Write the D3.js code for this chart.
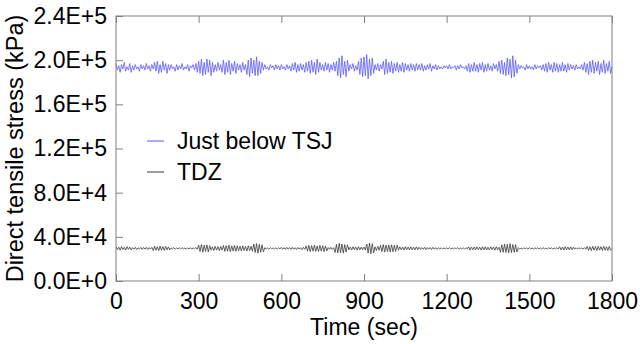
<!DOCTYPE html>
<html>
<head>
<meta charset="utf-8">
<script src="https://cdn.jsdelivr.net/npm/d3@7"></script>
<style>
  body { margin: 0; background: #fff; }
  text { font-family: Arial, "Liberation Sans", sans-serif; fill: #000; }
</style>
</head>
<body>
<div id="chart"></div>
<script>
// time axis, sampled every 5 sec (0..1800)
const timeStep = 5;
const xTicks = [0, 300, 600, 900, 1200, 1500, 1800];
const yTicks = [0, 40000, 80000, 120000, 160000, 200000, 240000];
const seriesNames = ['Just below TSJ', 'TDZ'];

// stress values, in 1000 kPa (one row = 100 sec)
const justBelowTSJ = [
  197,191,195,189,196,192,198,190,194,191,197,189,195,191,196,192,194,190,196,192,
  195,191,197,192,195,190,196,192,198,190,199,188,196,189,199,191,197,188,196,191,
  196,192,194,190,196,191,195,192,197,191,194,192,196,190,195,193,196,191,197,189,
  199,188,201,186,198,187,201,189,200,186,198,189,196,190,198,191,196,189,200,187,
  198,189,200,187,197,190,199,188,197,191,196,189,198,191,196,187,200,185,202,188,
  200,186,203,186,199,188,198,191,196,192,194,191,196,193,195,191,196,192,195,191,
  196,192,194,191,196,192,195,190,197,191,198,189,196,190,197,191,196,189,198,190,
  199,188,200,189,198,187,201,189,198,191,196,190,198,191,197,189,196,191,198,190,
  199,186,202,184,204,187,199,185,200,190,196,192,197,190,195,191,199,187,202,185,
  203,186,205,183,201,186,202,188,196,191,197,190,196,192,199,187,201,188,198,189,
  199,188,197,190,198,189,196,190,198,189,197,191,196,190,197,191,196,190,197,191,
  196,191,197,190,195,191,196,192,197,190,195,192,196,191,195,192,194,192,195,193,
  195,192,196,192,194,193,195,191,195,192,196,193,194,192,195,190,197,189,196,190,
  198,190,196,189,197,191,198,189,196,190,197,191,195,190,197,192,196,190,199,188,
  200,187,198,186,202,187,201,184,204,185,200,188,196,192,195,193,194,191,196,192,
  195,192,194,191,196,192,195,193,195,191,196,190,197,189,198,191,196,189,198,190,
  197,189,196,190,198,190,196,189,197,191,196,192,195,191,196,192,194,192,196,191,
  198,189,197,187,199,189,200,188,198,190,199,187,197,189,200,188,197,190,199,188,
  194
];

const tdz = [
  31.0,28.4,30.6,27.9,31.2,28.5,30.5,28.0,31.1,28.6,30.7,28.1,30.2,28.8,30.5,28.5,30.1,28.9,30.4,28.6,
  30.3,28.8,30.5,28.5,30.2,28.9,30.4,27.6,31.5,27.9,31.1,27.4,31.6,28.0,31.2,27.7,31.4,28.2,30.8,28.1,
  30.0,29.1,30.2,28.8,29.9,29.0,30.1,28.9,30.2,29.1,29.9,28.8,30.1,29.0,30.2,28.9,30.0,29.1,30.3,28.7,
  32.4,26.6,33.0,26.1,32.5,26.8,32.7,26.4,32.0,27.9,31.0,27.6,31.4,28.0,31.2,27.5,31.3,27.9,32.3,26.8,
  32.0,27.0,32.5,26.5,31.9,27.1,32.3,26.9,31.8,27.5,31.5,27.2,31.9,27.6,31.4,27.1,31.8,27.5,31.5,26.9,
  33.5,25.8,33.9,25.3,33.2,26.0,32.8,26.5,30.2,29.0,29.9,28.8,30.2,29.1,30.0,28.9,30.1,28.8,30.0,29.0,
  30.5,28.7,30.2,28.5,30.4,28.8,30.3,28.6,30.5,28.7,30.2,28.6,30.4,28.8,30.2,28.5,30.5,28.7,31.8,27.1,
  32.3,26.6,32.0,27.0,32.4,26.9,31.8,26.8,32.3,27.0,32.0,26.7,31.7,27.2,30.3,28.7,30.5,28.6,30.2,25.8,
  33.2,25.4,34.0,25.6,33.5,25.2,33.0,26.1,32.8,28.3,30.7,28.0,31.0,28.4,30.8,27.9,31.1,28.2,30.7,28.3,
  30.8,28.0,33.5,25.2,34.4,24.7,33.8,25.5,31.0,27.6,31.4,27.9,32.4,26.6,33.0,26.2,32.5,26.7,32.7,26.3,
  32.8,26.5,32.3,26.8,32.5,28.0,31.0,28.3,30.7,28.0,31.1,28.4,30.8,28.1,31.0,28.3,30.7,28.2,30.9,28.4,
  30.6,28.5,30.3,28.7,30.6,28.4,30.3,28.7,30.4,28.5,30.5,28.8,30.2,28.6,30.1,29.0,30.1,28.8,30.0,29.1,
  30.0,28.9,30.2,29.0,29.9,28.9,30.1,29.1,30.2,28.8,29.9,29.0,30.1,28.9,30.2,29.0,31.0,28.0,30.7,28.3,
  30.8,28.1,31.0,28.4,30.7,28.0,31.1,28.3,30.9,28.1,30.6,28.2,31.0,28.4,30.8,27.9,31.1,28.3,30.6,26.0,
  32.8,25.9,33.4,25.9,33.2,25.5,33.8,25.8,33.1,26.1,33.0,26.3,30.2,29.0,29.9,28.8,30.1,29.1,30.0,28.9,
  30.2,29.0,29.9,28.8,30.1,29.1,30.2,28.9,30.0,28.8,30.2,29.0,29.9,28.9,30.1,29.1,30.2,28.8,30.0,29.0,
  30.2,28.9,31.0,28.2,30.7,28.0,31.1,28.3,30.8,28.1,30.9,28.3,30.7,29.0,30.1,28.8,30.2,29.1,29.9,28.9,
  30.2,28.8,31.4,27.8,31.0,27.5,31.5,27.9,31.2,27.6,31.4,28.0,31.1,27.7,31.5,27.8,31.0,27.6,31.3,27.9,
  29.5
];

const width = 640, height = 344;
const margin = { top: 16, right: 28, bottom: 63, left: 116 };
const COLORS = { 'Just below TSJ': '#5b5bff', 'TDZ': '#3a3a3a' };
const tickLen = 7;
const fontSize = '23px';

const svg = d3.select('#chart')
  .append('svg')
  .attr('width', width)
  .attr('height', height);

const x = d3.scaleLinear()
  .domain([0, 1800])
  .range([margin.left, width - margin.right]);

const y = d3.scaleLinear()
  .domain([0, 240000])
  .range([height - margin.bottom, margin.top]);

const fmtY = v => d3.format('.1e')(v).toUpperCase();

// series lines
const line = d3.line()
  .x((d, i) => x(i * timeStep))
  .y(d => y(d * 1000));

[justBelowTSJ, tdz].forEach((values, k) => {
  svg.append('path')
    .datum(values)
    .attr('fill', 'none')
    .attr('stroke', COLORS[seriesNames[k]])
    .attr('stroke-width', 0.8)
    .attr('d', line);
});

// axes: ticks pointing inward, frame all round
const axisColor = '#808080';

svg.append('g')
  .attr('transform', `translate(0,${y(0)})`)
  .call(d3.axisBottom(x).tickValues(xTicks).tickSize(-tickLen).tickPadding(12).tickFormat(d3.format('d')))
  .call(g => g.select('.domain').remove());

svg.append('g')
  .attr('transform', `translate(0,${y(240000)})`)
  .call(d3.axisTop(x).tickValues(xTicks).tickSize(-tickLen).tickFormat(''))
  .call(g => g.select('.domain').remove());

svg.append('g')
  .attr('transform', `translate(${x(0)},0)`)
  .call(d3.axisLeft(y).tickValues(yTicks).tickSize(-tickLen).tickPadding(9).tickFormat(fmtY))
  .call(g => g.select('.domain').remove());

svg.selectAll('.tick line').attr('stroke', axisColor);
svg.selectAll('.tick text')
  .attr('fill', '#000')
  .style('font-family', 'Arial, "Liberation Sans", sans-serif')
  .style('font-size', fontSize);

svg.append('rect')
  .attr('x', x(0))
  .attr('y', y(240000))
  .attr('width', x(1800) - x(0))
  .attr('height', y(0) - y(240000))
  .attr('fill', 'none')
  .attr('stroke', axisColor)
  .attr('stroke-width', 1);

// axis titles
svg.append('text')
  .text('Time (sec)')
  .attr('x', (x(0) + x(1800)) / 2)
  .attr('y', 335)
  .attr('text-anchor', 'middle')
  .style('font-size', fontSize);

svg.append('text')
  .text('Direct tensile stress (kPa)')
  .attr('text-anchor', 'middle')
  .attr('transform', `translate(23,${(y(0) + y(240000)) / 2}) rotate(-90)`)
  .style('font-size', '23.5px');

// legend
seriesNames.forEach((name, i) => {
  const ly = 141 + i * 31;
  svg.append('line')
    .attr('x1', 147).attr('x2', 164)
    .attr('y1', ly).attr('y2', ly)
    .attr('stroke', COLORS[name])
    .attr('stroke-width', 1);
  svg.append('text')
    .text(name)
    .attr('x', 177)
    .attr('y', ly)
    .attr('dy', '0.35em')
    .style('font-size', fontSize);
});
</script>
</body>
</html>
